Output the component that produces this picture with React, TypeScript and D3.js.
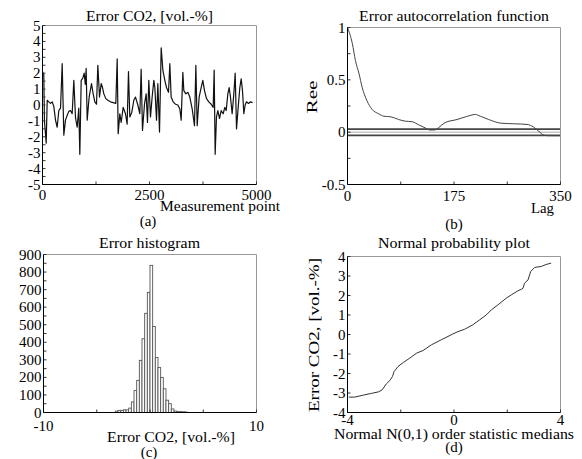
import React from 'react';
import * as d3 from 'd3';

// (a) model error over the measurement points
const errorPoint = [0, 30, 45, 63, 86, 110, 147, 187, 226, 265, 304, 343, 381, 421, 460, 498, 537, 577, 615, 654, 693, 732, 771, 810, 848, 872, 904, 943, 974, 1000, 1020, 1044, 1090, 1145, 1184, 1223, 1262, 1293, 1332, 1371, 1402, 1433, 1480, 1526, 1589, 1651, 1713, 1745, 1768, 1807, 1838, 1885, 1939, 1978, 2009, 2040, 2087, 2134, 2173, 2227, 2274, 2305, 2336, 2383, 2422, 2453, 2484, 2523, 2562, 2601, 2625, 2664, 2695, 2734, 2773, 2812, 2858, 2897, 2944, 2975, 3006, 3053, 3107, 3162, 3209, 3240, 3279, 3302, 3349, 3396, 3442, 3497, 3551, 3583, 3614, 3660, 3707, 3746, 3785, 3832, 3886, 3941, 3988, 4011, 4034, 4065, 4097, 4136, 4174, 4221, 4260, 4292, 4330, 4361, 4392, 4431, 4470, 4502, 4533, 4572, 4611, 4642, 4673, 4704, 4735, 4766, 4813, 4860, 4907];
const errorCO2 = [2.1, 1.9, -1.0, -1.6, -2.4, 0.3, 0.2, 0.1, 0.2, -0.1, -0.95, -1.4, -0.35, -0.2, 2.6, -1.9, -0.95, -0.65, -0.4, -0.35, -0.55, 1.55, -0.8, -1.4, -0.2, -3.1, 1.55, 1.7, 2.0, 1.3, 2.3, -0.95, 0.5, 1.35, 0.7, 0.2, 0.05, 2.5, 0.5, 1.35, 1.1, 0.7, 0.4, 0.3, 0.2, 0.15, 0.1, 2.9, -1.8, -0.55, -1.1, -0.15, -0.55, -1.2, 2.1, -0.75, -0.45, 0.3, 0.5, 0.0, -0.55, 2.25, -1.6, 0.05, 0.7, -1.1, 1.55, -0.75, 0.5, 1.55, 1.1, -0.95, 1.35, -1.7, 3.6, 2.2, 1.55, 1.1, 0.8, 2.6, 0.5, 0.2, 0.05, 0.0, -0.25, -0.95, 2.05, 0.9, 0.7, 0.8, 0.5, -0.25, -1.3, 2.5, -1.3, 0.5, 1.1, 1.55, 0.9, 0.4, 0.2, 0.05, -0.15, 2.2, -3.1, -0.75, -0.35, -0.85, -0.35, -0.55, -0.15, -0.35, 0.7, 1.1, 0.5, -0.55, 0.7, 2.0, -1.5, -0.15, 1.1, 1.65, 0.9, -0.55, 0.0, 0.2, 0.1, 0.2, 0.15];

// (b) autocorrelation of the error
const acfLag = [0, 8, 13, 19, 24, 32, 40, 51, 60, 71, 84, 95, 106, 117, 128, 136, 144, 150, 160, 180, 196, 210, 218, 232, 252, 273, 295, 306, 314, 323, 331, 350];
const acfValue = [1, 0.845, 0.685, 0.558, 0.43, 0.3, 0.22, 0.176, 0.152, 0.147, 0.121, 0.105, 0.1, 0.07, 0.04, 0.02, 0.022, 0.045, 0.09, 0.121, 0.15, 0.169, 0.153, 0.121, 0.086, 0.08, 0.074, 0.048, 0.01, -0.029, -0.034, -0.034];
const acfBound = [0.03, -0.03];

// (c) histogram, bins 0.25 wide
const histBinStart = [-3.25, -3.0, -2.75, -2.5, -2.25, -2.0, -1.75, -1.5, -1.25, -1.0, -0.75, -0.5, -0.25, 0, 0.25, 0.5, 0.75, 1.0, 1.25, 1.5, 1.75, 2.0, 2.25, 2.5, 2.75, 3.0, 3.25];
const histCount = [8, 12, 12, 15, 15, 25, 60, 125, 183, 297, 420, 565, 684, 838, 490, 313, 256, 200, 135, 70, 50, 20, 8, 5, 5, 4, 3];
const binWidth = 0.25;

// (d) normal probability plot
const nppMedian = [-3.95, -3.73, -3.41, -3.1, -2.83, -2.7, -2.54, -2.41, -2.31, -2.25, -2.1, -1.91, -1.66, -1.41, -1.16, -0.85, -0.475, -0.225, -0.04, 0.15, 0.4, 0.71, 0.96, 1.21, 1.4, 1.65, 1.96, 2.15, 2.4, 2.53, 2.59, 2.65, 2.78, 2.88, 3.03, 3.28, 3.46, 3.65];
const nppError = [-3.21, -3.21, -3.11, -3.02, -2.94, -2.84, -2.53, -2.36, -2.15, -1.9, -1.64, -1.44, -1.21, -0.96, -0.82, -0.53, -0.27, -0.1, 0.03, 0.15, 0.27, 0.5, 0.75, 1.0, 1.26, 1.52, 1.86, 2.03, 2.24, 2.32, 2.37, 2.63, 2.8, 3.23, 3.44, 3.49, 3.59, 3.66];

const FONT = 'Liberation Serif, Times New Roman, DejaVu Serif, serif';
const range = (a: number, b: number, s: number) => d3.range(a, b + s / 2, s);

type FrameProps = {
  x: d3.ScaleLinear<number, number>;
  y: d3.ScaleLinear<number, number>;
  xTicks: number[];
  xLabels: number[];
  yTicks: number[];
  yLabels: number[];
  xLabelDy: number;
};

function Frame({ x, y, xTicks, xLabels, yTicks, yLabels, xLabelDy }: FrameProps) {
  const [x0, x1] = x.range();
  const [yb, yt] = y.range();
  return (
    <g>
      <line x1={x0} x2={x1} y1={yt} y2={yt} stroke="#999" />
      <line x1={x1} x2={x1} y1={yt} y2={yb} stroke="#999" />
      {xTicks.map(t => (
        <line key={'xt' + t} x1={x(t)} x2={x(t)} y1={yb} y2={yb - 3} stroke="#333" />
      ))}
      {yTicks.map(t => (
        <line key={'yt' + t} x1={x0} x2={x0 + 3} y1={y(t)} y2={y(t)} stroke="#333" />
      ))}
      <line x1={x0} x2={x1} y1={yb} y2={yb} stroke="#000" />
      <line x1={x0} x2={x0} y1={yt} y2={yb} stroke="#000" />
      {xLabels.map(t => (
        <text key={'xl' + t} x={x(t)} y={yb + xLabelDy} textAnchor="middle">{String(t)}</text>
      ))}
      {yLabels.map(t => (
        <text key={'yl' + t} x={x0 - 2} y={y(t) + 5} textAnchor="end">{String(t)}</text>
      ))}
    </g>
  );
}

export default function App() {
  // (a)
  const xA = d3.scaleLinear().domain([0, 5000]).range([42.5, 256.5]);
  const yA = d3.scaleLinear().domain([-5, 5]).range([184.5, 25.5]);
  const lineA = d3.line<number>().x((d, i) => xA(errorPoint[i])).y(d => yA(d));

  // (b)
  const xB = d3.scaleLinear().domain([0, 350]).range([347.5, 560.5]);
  const yB = d3.scaleLinear().domain([-0.5, 1]).range([184.5, 27.5]);
  const lineB = d3.line<number>().x((d, i) => xB(acfLag[i])).y(d => yB(d)).curve(d3.curveMonotoneX);

  // (c)
  const xC = d3.scaleLinear().domain([-10, 10]).range([43.5, 256.5]);
  const yC = d3.scaleLinear().domain([0, 900]).range([412.5, 254.5]);

  // (d)
  const xD = d3.scaleLinear().domain([-4, 4]).range([347.5, 560.5]);
  const yD = d3.scaleLinear().domain([-4, 4]).range([412.5, 256.5]);
  const lineD = d3.line<number>().x((d, i) => xD(nppMedian[i])).y(d => yD(d));

  return (
    <svg
      width={582}
      height={459}
      style={{ position: 'absolute', left: 0, top: 0, background: '#fff', fontFamily: FONT, fontSize: '15px' }}
      fill="#000"
    >
      <rect width={582} height={459} fill="#fff" />

      {/* (a) */}
      <path d={lineA(errorCO2) || ''} fill="none" stroke="#111" strokeWidth={1.2} strokeLinejoin="round" />
      <Frame x={xA} y={yA} xTicks={range(0, 5000, 1250)} xLabels={[0, 2500, 5000]}
        yTicks={range(-5, 5, 0.5)} yLabels={range(-5, 5, 1)} xLabelDy={15.5} />
      <text x={149.5} y={21} textAnchor="middle" textLength={127} lengthAdjust="spacingAndGlyphs">Error CO2, [vol.-%]</text>
      <text x={160} y={211} textLength={120} lengthAdjust="spacingAndGlyphs">Measurement point</text>
      <text x={148} y={226} textAnchor="middle">(a)</text>

      {/* (b) */}
      <line x1={xB(0)} x2={xB(350)} y1={yB(0)} y2={yB(0)} stroke="#aaa" />
      {acfBound.map(b => (
        <line key={b} x1={xB(0)} x2={xB(350)} y1={yB(b)} y2={yB(b)} stroke="#444" strokeWidth={1.8} />
      ))}
      <path d={lineB(acfValue) || ''} fill="none" stroke="#444" strokeWidth={1} />
      <Frame x={xB} y={yB} xTicks={range(0, 350, 87.5)} xLabels={[0, 175, 350]}
        yTicks={range(-0.5, 1, 0.25)} yLabels={[-0.5, 0, 0.5, 1]} xLabelDy={16} />
      <text x={454} y={21} textAnchor="middle" textLength={190} lengthAdjust="spacingAndGlyphs">Error autocorrelation function</text>
      <text transform="translate(317,97) rotate(-90)" textAnchor="middle" textLength={33} lengthAdjust="spacingAndGlyphs">Ree</text>
      <text x={531} y={213} textLength={23} lengthAdjust="spacingAndGlyphs">Lag</text>
      <text x={454} y={229} textAnchor="middle">(b)</text>

      {/* (c) */}
      {histBinStart.map((s, i) => (
        <rect key={s} x={xC(s)} y={yC(histCount[i])} width={xC(s + binWidth) - xC(s)}
          height={yC(0) - yC(histCount[i])} fill="#fff" stroke="#555" strokeWidth={0.9} />
      ))}
      <Frame x={xC} y={yC} xTicks={range(-10, 10, 5)} xLabels={[-10, 10]}
        yTicks={range(0, 900, 50)} yLabels={range(0, 900, 100)} xLabelDy={18} />
      <text x={149.5} y={248} textAnchor="middle" textLength={101} lengthAdjust="spacingAndGlyphs">Error histogram</text>
      <text x={171} y={442} textAnchor="middle" textLength={128} lengthAdjust="spacingAndGlyphs">Error CO2, [vol.-%]</text>
      <text x={149} y={456.5} textAnchor="middle">(c)</text>

      {/* (d) */}
      <path d={lineD(nppError) || ''} fill="none" stroke="#333" strokeWidth={1} />
      <Frame x={xD} y={yD} xTicks={range(-4, 4, 2)} xLabels={[-4, 0, 4]}
        yTicks={range(-4, 4, 1)} yLabels={range(-4, 4, 1)} xLabelDy={12.5} />
      <text x={454} y={248} textAnchor="middle" textLength={152} lengthAdjust="spacingAndGlyphs">Normal probability plot</text>
      <text transform="translate(319,335) rotate(-90)" textAnchor="middle" textLength={154} lengthAdjust="spacingAndGlyphs">Error CO2, [vol.-%]</text>
      <text x={454} y={439} textAnchor="middle" textLength={240} lengthAdjust="spacingAndGlyphs">Normal N(0,1) order statistic medians</text>
      <text x={454} y={452} textAnchor="middle">(d)</text>
    </svg>
  );
}
